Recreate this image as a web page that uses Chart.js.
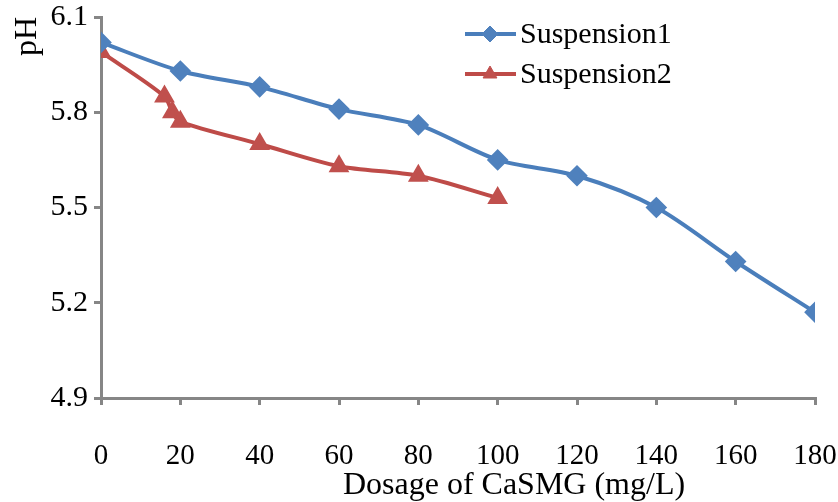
<!DOCTYPE html>
<html>
<head>
<meta charset="utf-8">
<script src="https://cdn.jsdelivr.net/npm/chart.js@4/dist/chart.umd.min.js"></script>
<style>
  html, body { margin: 0; padding: 0; background: #fff; }
  #wrap { width: 838px; height: 502px; }
</style>
</head>
<body>
<div id="wrap"><canvas id="myChart" width="838" height="502"></canvas></div>
<script>
// values
const dosage1 = [0, 20, 40, 60, 80, 100, 120, 140, 160, 180];
const ph1 = [6.02, 5.93, 5.88, 5.81, 5.76, 5.65, 5.60, 5.50, 5.33, 5.17];
const dosage2 = [0, 16, 18, 20, 40, 60, 80, 100];
const ph2 = [5.99, 5.85, 5.80, 5.77, 5.70, 5.63, 5.60, 5.53];
const seriesNames = ['Suspension1', 'Suspension2'];
const yTicks = [4.9, 5.2, 5.5, 5.8, 6.1];
const xTicks = [0, 20, 40, 60, 80, 100, 120, 140, 160, 180];
const xTitle = 'Dosage of CaSMG (mg/L)';
const yTitle = 'pH';

const axisColor = '#868686';
const blue = '#4A7EBB';
const red = '#BE4B48';
const serif = "'Liberation Serif', 'Times New Roman', serif";

const toPoints = (xs, ys) => xs.map((x, i) => ({ x, y: ys[i] }));

// legend drawn inside the plot, top right, like the Excel original
// (the x axis title sits right of centre in the original, so it's drawn here too)
const insideLegend = {
  id: 'insideLegend',
  afterDraw(chart) {
    const ctx = chart.ctx;
    const rows = [34, 74];
    ctx.save();
    chart.data.datasets.forEach((ds, i) => {
      const y = rows[i];
      ctx.strokeStyle = ds.borderColor;
      ctx.lineWidth = 4;
      ctx.beginPath();
      ctx.moveTo(465, y);
      ctx.lineTo(516, y);
      ctx.stroke();
      ctx.fillStyle = ds.pointBackgroundColor;
      ctx.strokeStyle = ds.pointBorderColor;
      ctx.lineWidth = 1;
      Chart.helpers.drawPoint(ctx, {
        pointStyle: ds.pointStyle,
        radius: ds.pointRadius,
        borderWidth: 1
      }, 490, y);
      ctx.fillStyle = '#000';
      ctx.font = '30px ' + serif;
      ctx.textBaseline = 'middle';
      ctx.textAlign = 'left';
      ctx.fillText(ds.label, 520, y + 1);
    });
    ctx.font = '32px ' + serif;
    ctx.textAlign = 'center';
    ctx.textBaseline = 'middle';
    ctx.fillStyle = '#000';
    ctx.fillText(xTitle, 514, 486);
    ctx.restore();
  }
};

Chart.defaults.font.family = serif;
Chart.defaults.color = '#000';

new Chart(document.getElementById('myChart'), {
  type: 'line',
  data: {
    datasets: [{
      label: seriesNames[0],
      data: toPoints(dosage1, ph1),
      borderColor: blue,
      backgroundColor: blue,
      pointBackgroundColor: '#4F81BD',
      pointBorderColor: '#4F81BD',
      borderWidth: 4,
      pointStyle: 'rectRot',
      pointRadius: 8,
      tension: 0.3
    }, {
      label: seriesNames[1],
      data: toPoints(dosage2, ph2),
      borderColor: red,
      backgroundColor: red,
      pointBackgroundColor: '#C0504D',
      pointBorderColor: '#C0504D',
      borderWidth: 4,
      pointStyle: 'triangle',
      pointRadius: 8,
      tension: 0.3
    }]
  },
  options: {
    responsive: false,
    animation: false,
    devicePixelRatio: 1,
    layout: { padding: 0 },
    plugins: {
      legend: { display: false },
      tooltip: { enabled: false }
    },
    scales: {
      x: {
        type: 'linear',
        min: 0,
        max: 180,
        afterFit: scale => {
          scale.height = 104;
          scale.paddingLeft = 0;
          scale.paddingRight = 23;
        },
        afterBuildTicks: scale => { scale.ticks = xTicks.map(v => ({ value: v })); },
        grid: { drawOnChartArea: false, color: axisColor, lineWidth: 3, tickLength: 7 },
        border: { color: axisColor, width: 3 },
        ticks: { font: { size: 29 }, padding: 34, maxRotation: 0, autoSkip: false }
      },
      y: {
        min: 4.9,
        max: 6.1,
        afterFit: scale => {
          scale.width = 101;
          scale.paddingTop = 17;
          scale.paddingBottom = 0;
        },
        afterBuildTicks: scale => { scale.ticks = yTicks.map(v => ({ value: v })); },
        grid: { drawOnChartArea: false, color: axisColor, lineWidth: 3, tickLength: 7 },
        border: { color: axisColor, width: 3 },
        ticks: { font: { size: 30 }, padding: 6, callback: v => v.toFixed(1) },
        title: {
          display: true,
          text: yTitle,
          align: 'end',
          font: { size: 32, lineHeight: 1 },
          padding: { top: 12, bottom: 0 }
        }
      }
    }
  },
  plugins: [insideLegend]
});
</script>
</body>
</html>
